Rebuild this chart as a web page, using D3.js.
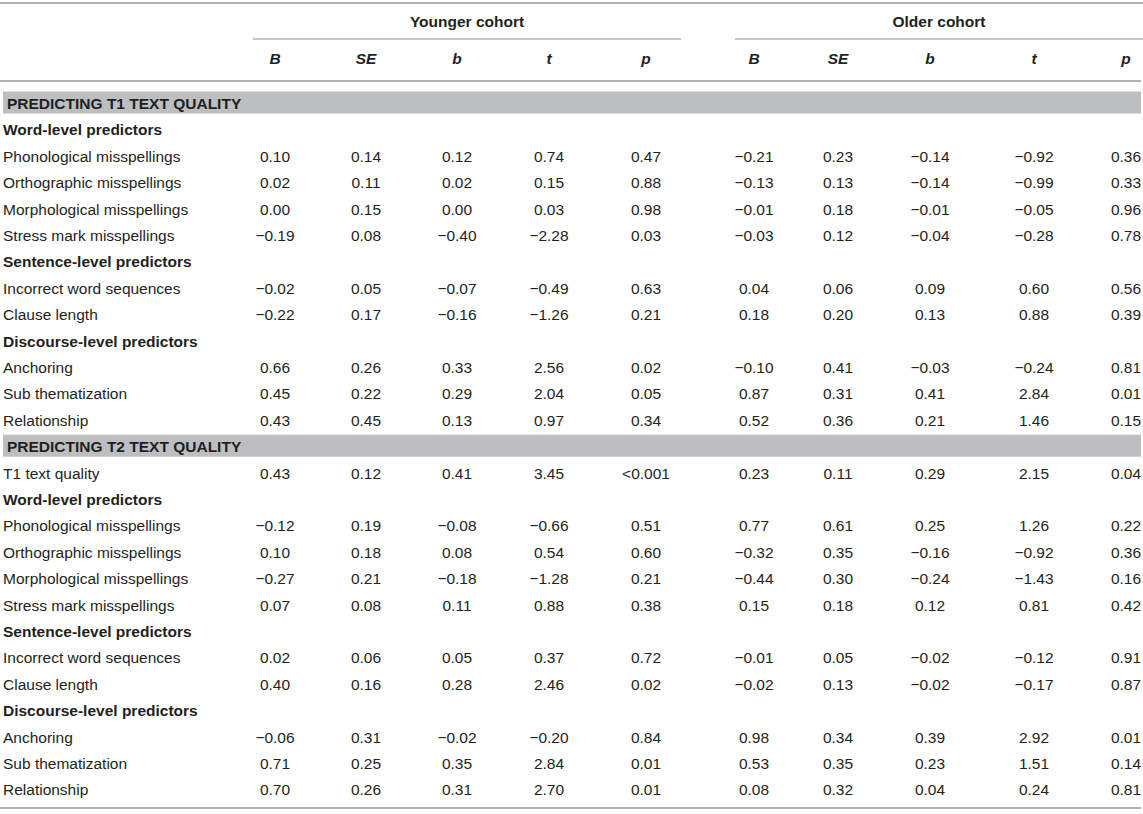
<!DOCTYPE html>
<html>
<head>
<meta charset="utf-8">
<script src="https://cdn.jsdelivr.net/npm/d3@7"></script>
<style>
  body { margin: 0; background: #fff; }
  svg text { font-family: "Liberation Sans", Arial, Helvetica, sans-serif; font-size: 15.5px; fill: #231f20; }
</style>
</head>
<body>
<svg id="chart" width="1143" height="814"></svg>
<script>
// Table contents
const cohorts = ["Younger cohort", "Older cohort"];
const statCols = ["B", "SE", "b", "t", "p"];
const sections = ["PREDICTING T1 TEXT QUALITY", "PREDICTING T2 TEXT QUALITY"];
const groupNames = ["Word-level predictors", "Sentence-level predictors", "Discourse-level predictors"];
const groupPredictors = [
    ["Phonological misspellings", "Orthographic misspellings", "Morphological misspellings", "Stress mark misspellings"],
    ["Incorrect word sequences", "Clause length"],
    ["Anchoring", "Sub thematization", "Relationship"]
];

// T1 text quality models (rows follow groupPredictors order)
const t1Younger = [
    [0.10, 0.14, 0.12, 0.74, 0.47],
    [0.02, 0.11, 0.02, 0.15, 0.88],
    [0.00, 0.15, 0.00, 0.03, 0.98],
    [-0.19, 0.08, -0.40, -2.28, 0.03],
    [-0.02, 0.05, -0.07, -0.49, 0.63],
    [-0.22, 0.17, -0.16, -1.26, 0.21],
    [0.66, 0.26, 0.33, 2.56, 0.02],
    [0.45, 0.22, 0.29, 2.04, 0.05],
    [0.43, 0.45, 0.13, 0.97, 0.34]
];
const t1Older = [
    [-0.21, 0.23, -0.14, -0.92, 0.36],
    [-0.13, 0.13, -0.14, -0.99, 0.33],
    [-0.01, 0.18, -0.01, -0.05, 0.96],
    [-0.03, 0.12, -0.04, -0.28, 0.78],
    [0.04, 0.06, 0.09, 0.60, 0.56],
    [0.18, 0.20, 0.13, 0.88, 0.39],
    [-0.10, 0.41, -0.03, -0.24, 0.81],
    [0.87, 0.31, 0.41, 2.84, 0.01],
    [0.52, 0.36, 0.21, 1.46, 0.15]
];

// T2 models: autoregressor first, then the same predictors
const t2Lead = "T1 text quality";
const t2LeadYounger = [0.43, 0.12, 0.41, 3.45, "<0.001"];
const t2LeadOlder = [0.23, 0.11, 0.29, 2.15, 0.04];
const t2Younger = [
    [-0.12, 0.19, -0.08, -0.66, 0.51],
    [0.10, 0.18, 0.08, 0.54, 0.60],
    [-0.27, 0.21, -0.18, -1.28, 0.21],
    [0.07, 0.08, 0.11, 0.88, 0.38],
    [0.02, 0.06, 0.05, 0.37, 0.72],
    [0.40, 0.16, 0.28, 2.46, 0.02],
    [-0.06, 0.31, -0.02, -0.20, 0.84],
    [0.71, 0.25, 0.35, 2.84, 0.01],
    [0.70, 0.26, 0.31, 2.70, 0.01]
];
const t2Older = [
    [0.77, 0.61, 0.25, 1.26, 0.22],
    [-0.32, 0.35, -0.16, -0.92, 0.36],
    [-0.44, 0.30, -0.24, -1.43, 0.16],
    [0.15, 0.18, 0.12, 0.81, 0.42],
    [-0.01, 0.05, -0.02, -0.12, 0.91],
    [-0.02, 0.13, -0.02, -0.17, 0.87],
    [0.98, 0.34, 0.39, 2.92, 0.01],
    [0.53, 0.35, 0.23, 1.51, 0.14],
    [0.08, 0.32, 0.04, 0.24, 0.81]
];

const svg = d3.select("#chart");
const W = 1143;
const ruleColor = "#b3b3b3";
const bandColor = "#bcbec0";

// flatten into a list of table lines
const lines = [];
function addSection(title, lead, leadY, leadO, young, old) {
    lines.push({ kind: "band", label: title });
    if (lead) lines.push({ kind: "row", label: lead, young: leadY, old: leadO });
    let k = 0;
    groupNames.forEach((g, gi) => {
        lines.push({ kind: "group", label: g });
        groupPredictors[gi].forEach(name => {
            lines.push({ kind: "row", label: name, young: young[k], old: old[k] });
            k++;
        });
    });
}
addSection(sections[0], null, null, null, t1Younger, t1Older);
addSection(sections[1], t2Lead, t2LeadYounger, t2LeadOlder, t2Younger, t2Older);

// column positions
const colKeys = cohorts.flatMap((c, ci) => statCols.map(s => ci + s));
const x = d3.scaleOrdinal()
    .domain(colKeys)
    .range([275, 366, 457, 549, 646, 754, 838, 930, 1034, 1126]);

// row centres: one step per line
const y = d3.scaleLinear().domain([0, 1]).range([103.5, 129.9]);

const fmt = v => typeof v === "number" ? d3.format(".2f")(v).replace("-", "\u2013") : v;

// rules
svg.append("line").attr("x1", 0).attr("x2", W).attr("y1", 3).attr("y2", 3)
    .attr("stroke", ruleColor).attr("stroke-width", 2);
svg.append("line").attr("x1", 0).attr("x2", 1141).attr("y1", 81).attr("y2", 81)
    .attr("stroke", ruleColor).attr("stroke-width", 2);
svg.append("line").attr("x1", 0).attr("x2", 1141).attr("y1", y(lines.length - 1) + 18).attr("y2", y(lines.length - 1) + 18)
    .attr("stroke", ruleColor).attr("stroke-width", 2);

// cohort spanners
const spans = [[253, 681], [735, 1143]];
cohorts.forEach((c, ci) => {
    const [a, b] = spans[ci];
    svg.append("line").attr("x1", a).attr("x2", b).attr("y1", 39).attr("y2", 39)
        .attr("stroke", ruleColor).attr("stroke-width", 1.5);
    svg.append("text").attr("x", (a + b) / 2).attr("y", 27)
        .attr("text-anchor", "middle").attr("font-weight", "bold").text(c);
});

// stat headers
svg.selectAll("text.colhead")
    .data(colKeys)
    .join("text")
    .attr("class", "colhead")
    .attr("x", d => x(d))
    .attr("y", 64)
    .attr("text-anchor", "middle")
    .attr("font-weight", "bold")
    .attr("font-style", "italic")
    .text(d => d.slice(1));

// bands
const bands = lines.map((d, i) => ({ ...d, i })).filter(d => d.kind === "band");
svg.selectAll("rect.band")
    .data(bands)
    .join("rect")
    .attr("class", "band")
    .attr("x", 3)
    .attr("width", 1138)
    .attr("y", d => y(d.i) - 12)
    .attr("height", 22)
    .attr("fill", bandColor);

const g = svg.selectAll("g.line")
    .data(lines.map((d, i) => ({ ...d, i })))
    .join("g")
    .attr("class", "line")
    .attr("transform", d => `translate(0,${y(d.i) + 5.5})`);

g.append("text")
    .attr("x", d => d.kind === "band" ? 7 : 3)
    .attr("font-weight", d => d.kind === "row" ? null : "bold")
    .text(d => d.label);

g.filter(d => d.kind === "row").each(function(d) {
    const cells = [];
    d.young.forEach((v, j) => cells.push({ key: "0" + statCols[j], v }));
    d.old.forEach((v, j) => cells.push({ key: "1" + statCols[j], v }));
    d3.select(this).selectAll("text.val")
        .data(cells)
        .join("text")
        .attr("class", "val")
        .attr("x", c => x(c.key))
        .attr("text-anchor", "middle")
        .text(c => fmt(c.v));
});
</script>
</body>
</html>
